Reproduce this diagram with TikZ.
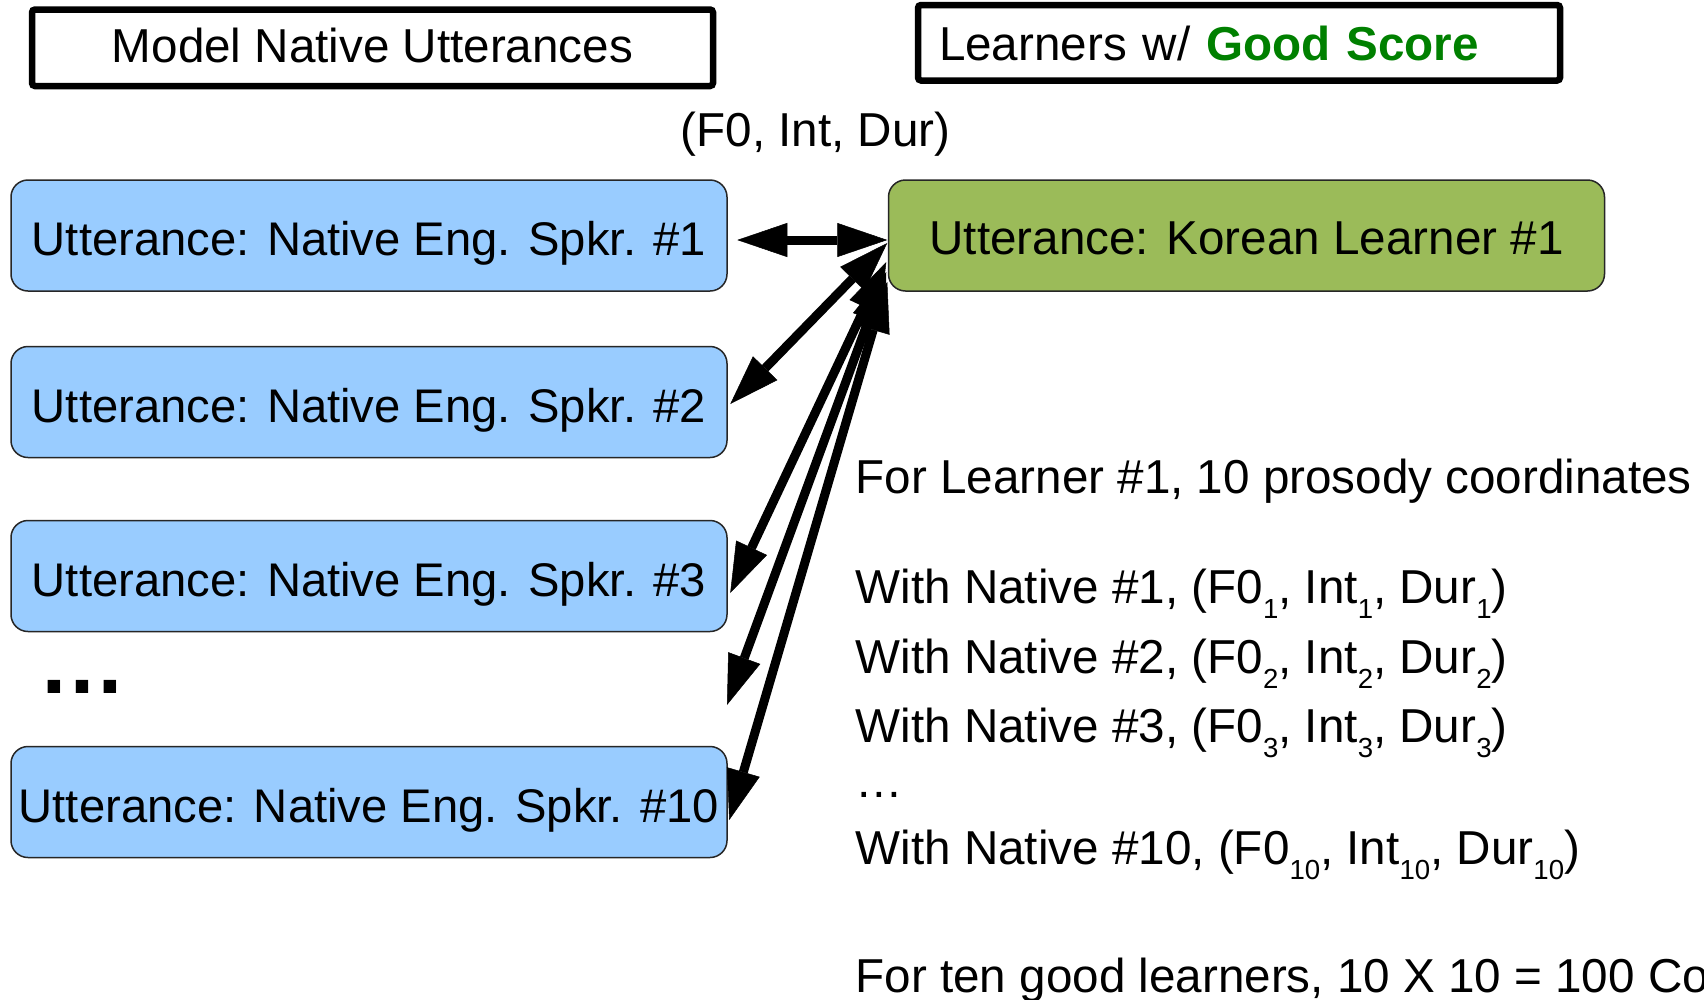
\documentclass[tikz,border=0pt]{standalone}
\usepackage{fontspec}
\setmainfont{Liberation Sans}
\usetikzlibrary{arrows.meta}
\definecolor{uttblue}{HTML}{99CCFF}
\definecolor{lrngreen}{HTML}{9BBB59}
\definecolor{goodgreen}{HTML}{008000}
\newcommand\sbx[1]{\raisebox{-15.7pt}{\fontsize{27.6}{30}\selectfont #1}}
\begin{document}
\begin{tikzpicture}[x=1pt,y=-1pt,
  base/.style={font=\fontsize{47.6}{57}\selectfont, inner sep=0pt},
  hdr/.style={base, draw=black, line width=6.5pt, rounded corners=3pt, fill=white},
  utt/.style={base, draw=black!85, line width=1.5pt, rounded corners=17pt, fill=uttblue,
    minimum width=716pt, minimum height=111pt, text height=40pt, text depth=0pt,
    font=\fontsize{47.2}{57}\selectfont},
  lrn/.style={utt, fill=lrngreen, font=\fontsize{47.6}{57}\selectfont, text height=38pt},
  txt/.style={base, anchor=base west},
  tipA/.tip={Triangle[length=50pt 0 0,width=34pt 0 0,line width=0.5pt]},
  link/.style={line width=9pt, tipA-tipA},
]
\clip (0,0) rectangle (1704,999);
\fill[white] (0,0) rectangle (1704,999);

% headers
\node[hdr, minimum width=681pt, minimum height=76.5pt, text height=30pt, text depth=0pt]
  (hmodel) at (372.5,47.75) {Model Native Utterances};
\node[hdr, minimum width=642pt, minimum height=75.5pt, text width=600pt, align=left,
  text height=34.5pt, text depth=0pt]
  (hlearn) at (1239,42.75) {Learners w/ \textcolor{goodgreen}{\textbf{Good Score}}};

\node[base, anchor=base] (feat) at (815.5,146) {(F0, Int, Dur)};

% utterance boxes
\node[utt] (n1) at (369,235.5) {Utterance: Native Eng. Spkr. \#1};
\node[utt] (n2) at (369,402) {Utterance: Native Eng. Spkr. \#2};
\node[utt] (n3) at (369,576) {Utterance: Native Eng. Spkr. \#3};
\node[utt] (n10) at (369,802) {Utterance: Native Eng. Spkr. \#10};
\node[lrn] (kl) at (1246.5,235.5) {Utterance: Korean Learner \#1};

\node[base, anchor=base west, font=\fontsize{88}{90}\selectfont\bfseries] (ldots) at (38,693) {…};

% right-hand text
\node[txt] (t0) at (855.5,493) {For Learner \#1, 10 prosody coordinates};
\node[txt] (t1) at (855.5,603) {With Native \#1, (F0\sbx{1}, Int\sbx{1}, Dur\sbx{1})};
\node[txt] (t2) at (855.5,673) {With Native \#2, (F0\sbx{2}, Int\sbx{2}, Dur\sbx{2})};
\node[txt] (t3) at (855.5,742) {With Native \#3, (F0\sbx{3}, Int\sbx{3}, Dur\sbx{3})};
\node[txt] (tdots) at (855.5,797) {…};
\node[txt] (t10) at (855.5,864) {With Native \#10, (F0\sbx{10}, Int\sbx{10}, Dur\sbx{10})};
\node[txt] (tall) at (855.5,992) {For ten good learners, 10 X 10 = 100 Coordinates};

% connectors
\coordinate (dotsend) at (727,705);
\draw[link] ([xshift=9.5pt,yshift=-4.5pt]n1.east) -- ([xshift=-0.5pt,yshift=-4.5pt]kl.west);
\draw[link] ([xshift=-0.5pt,yshift=-7.5pt]kl.west) -- ([xshift=2.5pt,yshift=-2pt]n2.east);
\draw[link] ([xshift=-1.5pt,yshift=-26.5pt]kl.west) -- ([xshift=2.5pt,yshift=-17pt]n3.east);
\draw[link] ([xshift=-1.5pt,yshift=-36.5pt]kl.west) -- (dotsend);
\draw[link] ([xshift=-0.5pt,yshift=-46.5pt]kl.west) -- ([xshift=1.5pt,yshift=-18pt]n10.east);
\end{tikzpicture}
\end{document}
